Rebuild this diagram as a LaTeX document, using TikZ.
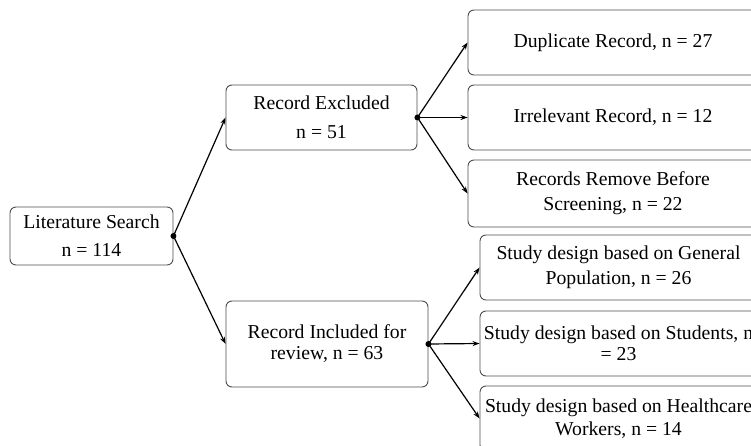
\documentclass[tikz,border=0pt]{standalone}
\usepackage{fontspec}
\setmainfont{Liberation Serif}
\usetikzlibrary{arrows.meta}
\begin{document}
\begin{tikzpicture}[x=1pt,y=-1pt,
  box/.style={draw=black!70, line width=0.9pt, rounded corners=6pt, align=center, inner sep=0pt,
    font=\fontsize{19.7}{24}\selectfont},
  dot/.style={circle, fill=black, inner sep=0pt, minimum size=6pt},
  arr/.style={line width=1.2pt, -{Stealth[length=7pt,width=5pt]}}]
\useasboundingbox (0,0) rectangle (751,446);
% left
\node[box, minimum width=163pt, minimum height=58pt, font=\fontsize{19.7}{28}\selectfont] (lit) at (91.5,236) {Literature Search\\n = 114};
% middle
\node[box, minimum width=191pt, minimum height=65pt, font=\fontsize{19.7}{29}\selectfont] (exc) at (321.5,117.5) {Record Excluded\\n = 51};
\node[box, minimum width=202pt, minimum height=86pt, font=\fontsize{19.7}{21}\selectfont] (inc) at (327,344) {Record Included for\\review, n = 63};
% right top
\node[box, minimum width=290pt, minimum height=65pt] (dup) at (613,42.5) {Duplicate Record, n = 27};
\node[box, minimum width=290pt, minimum height=65pt] (irr) at (613,117.5) {Irrelevant Record, n = 12};
\node[box, minimum width=290pt, minimum height=67pt, font=\fontsize{19.7}{25}\selectfont] (rem) at (613,193.5) {Records Remove Before\\Screening, n = 22};
% right bottom
\node[box, minimum width=277pt, minimum height=65pt, font=\fontsize{19.7}{25}\selectfont] (gen) at (618.5,267.5) {Study design based on General\\Population, n = 26};
\node[box, minimum width=277pt, minimum height=65pt, font=\fontsize{19.7}{21}\selectfont] (stu) at (618.5,343.5) {Study design based on Students, n\\= 23};
\node[box, minimum width=277pt, minimum height=65pt, font=\fontsize{19.7}{23}\selectfont] (hea) at (618.5,418.5) {Study design based on Healthcare\\Workers, n = 14};
% dots
\node[dot] (d1) at (lit.east) {};
\node[dot] (d2) at (exc.east) {};
\node[dot] (d3) at (inc.east) {};
% arrows
\draw[arr] (d1.center) -- (exc.west);
\draw[arr] (d1.center) -- (inc.west);
\draw[arr] (d2.center) -- (dup.west);
\draw[arr] (d2.center) -- (irr.west);
\draw[arr] (d2.center) -- (rem.west);
\draw[arr] (d3.center) -- (gen.west);
\draw[arr] (d3.center) -- (stu.west);
\draw[arr] (d3.center) -- (hea.west);
\end{tikzpicture}
\end{document}
